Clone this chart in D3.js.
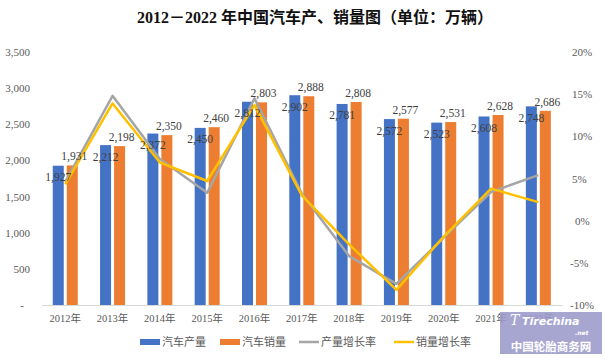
<!DOCTYPE html>
<html><head><meta charset="utf-8">
<script src="https://cdn.jsdelivr.net/npm/d3@7/dist/d3.min.js"></script>
<style>
body{margin:0;background:#fff;}
svg{display:block;}
</style></head>
<body>
<svg id="chart" width="605" height="359"></svg>
<script>
const categories = ["2012年","2013年","2014年","2015年","2016年","2017年","2018年","2019年","2020年","2021年","2022年"];
const production = [1927,2212,2372,2450,2812,2902,2781,2572,2523,2608,2748];
const sales = [1931,2198,2350,2460,2803,2888,2808,2577,2531,2628,2686];
const prodGrowth = [4.6,14.8,7.3,3.3,14.5,3.2,-4.2,-7.5,-2.0,3.4,5.4];
const salesGrowth = [4.3,13.9,6.9,4.7,13.7,3.0,-2.8,-8.2,-1.9,3.8,2.2];
const leftTicks = [0,500,1000,1500,2000,2500,3000,3500];
const rightTicks = [-10,-5,0,5,10,15,20];
const legendItems = [
  {name:"汽车产量", type:"bar", color:"#4472c4"},
  {name:"汽车销量", type:"bar", color:"#ed7d31"},
  {name:"产量增长率", type:"line", color:"#a5a5a5"},
  {name:"销量增长率", type:"line", color:"#ffc000"}
];

const svg = d3.select("#chart");
const serif = "'Liberation Serif','Times New Roman',serif";
const sans = "'Noto Sans CJK SC','Noto Sans',sans-serif";

const x = d3.scaleBand().domain(categories).range([41.6, 562]).padding(0);
const yL = d3.scaleLinear().domain([0,3500]).range([305,52]);
const yR = d3.scaleLinear().domain([-10,20]).range([305,52]);
const barW = 11, off = 7;

// title
svg.append("text").attr("x",137).attr("y",23)
  .attr("font-family", serif + ",'Noto Sans CJK SC'")
  .attr("font-weight","bold").attr("font-size",16).attr("fill","#111")
  .text("2012－2022 年中国汽车产、销量图（单位：万辆）");

// left axis
const gL = svg.append("g").attr("transform","translate(30,0)")
  .call(d3.axisLeft(yL).tickValues(leftTicks).tickSize(0).tickPadding(0)
    .tickFormat(d => d === 0 ? "-" : d3.format(",")(d)));
gL.select(".domain").remove();
gL.selectAll("text").attr("font-family",serif).attr("font-size",11).attr("fill","#595959")
  .attr("dx", d => d===0 ? -6 : 0);

// right axis
const gR = svg.append("g").attr("transform","translate(572,0)")
  .call(d3.axisRight(yR).tickValues(rightTicks).tickSize(0).tickPadding(0)
    .tickFormat(d => d + "%"));
gR.select(".domain").remove();
gR.selectAll("text").attr("font-family",serif).attr("font-size",11).attr("fill","#595959")
  .attr("dx", d => d < 0 ? -2 : (d===0 ? 3 : 0));

// x axis
const gX = svg.append("g").attr("transform","translate(0,305)")
  .call(d3.axisBottom(x).tickSize(0).tickPadding(10));
gX.select(".domain").attr("stroke","#d9d9d9");
gX.selectAll("text").attr("font-family",serif + ",'Noto Sans CJK SC'").attr("font-size",10.5).attr("fill","#595959");

// bars
svg.append("g").selectAll("rect").data(production).join("rect")
  .attr("x",(d,i)=>x(categories[i])+x.bandwidth()/2-off-barW/2)
  .attr("y",d=>yL(d)).attr("width",barW).attr("height",d=>yL(0)-yL(d))
  .attr("fill","#4472c4");
svg.append("g").selectAll("rect").data(sales).join("rect")
  .attr("x",(d,i)=>x(categories[i])+x.bandwidth()/2+off-barW/2)
  .attr("y",d=>yL(d)).attr("width",barW).attr("height",d=>yL(0)-yL(d))
  .attr("fill","#ed7d31");

// lines
const cx = (i)=>x(categories[i])+x.bandwidth()/2;
const line = d3.line().x((d,i)=>cx(i)).y(d=>yR(d));
svg.append("path").datum(prodGrowth).attr("d",line).attr("fill","none")
  .attr("stroke","#a5a5a5").attr("stroke-width",2.5).attr("stroke-linejoin","round");
svg.append("path").datum(salesGrowth).attr("d",line).attr("fill","none")
  .attr("stroke","#ffc000").attr("stroke-width",2.5).attr("stroke-linejoin","round");

// labels
const fmt = d3.format(",");
svg.append("g").selectAll("text").data(production).join("text")
  .attr("x",(d,i)=>cx(i)-off).attr("y",d=>yL(d)+15.5)
  .attr("text-anchor","middle").attr("font-family",serif).attr("font-size",11.5)
  .attr("fill","#404040").text(d=>fmt(d));
svg.append("g").selectAll("text").data(sales).join("text")
  .attr("x",(d,i)=>cx(i)+off+2).attr("y",d=>yL(d)-5)
  .attr("text-anchor","middle").attr("font-family",serif).attr("font-size",11.5)
  .attr("fill","#404040").text(d=>fmt(d));

// legend
const legX = [140, 220, 299, 394];
const lg = svg.append("g").selectAll("g").data(legendItems).join("g")
  .attr("transform",(d,i)=>`translate(${legX[i]},342)`);
lg.each(function(d){
  const g = d3.select(this);
  if (d.type==="bar") g.append("rect").attr("x",0).attr("y",-3).attr("width",20).attr("height",6).attr("fill",d.color);
  else g.append("line").attr("x1",0).attr("x2",20).attr("y1",0).attr("y2",0).attr("stroke",d.color).attr("stroke-width",2.5);
  g.append("text").attr("x",22).attr("y",4).attr("font-family",sans).attr("font-size",11)
    .attr("fill","#595959").text(d.name);
});

// watermark
const wm = svg.append("g");
wm.append("rect").attr("x",500).attr("y",312).attr("width",102).attr("height",42)
  .attr("fill","#9b9acb").attr("opacity",0.88);
wm.append("text").attr("x",522).attr("y",325).attr("font-family","'DejaVu Sans',sans-serif")
  .attr("font-style","italic").attr("font-weight","bold").attr("font-size",11).attr("fill","#fff").text("Tirechina");
wm.append("text").attr("x",575).attr("y",335).attr("font-family","'DejaVu Sans',sans-serif")
  .attr("font-style","italic").attr("font-weight","bold").attr("font-size",6).attr("fill","#fff").text(".net");
wm.append("text").attr("x",510).attr("y",325).attr("font-family","'DejaVu Serif',serif")
  .attr("font-style","italic").attr("font-size",14).attr("fill","#fff").text("T");
wm.append("text").attr("x",551).attr("y",351).attr("text-anchor","middle").attr("font-family",sans)
  .attr("font-weight","bold").attr("font-size",11.5).attr("fill","#fff").text("中国轮胎商务网");
</script>
</body></html>
